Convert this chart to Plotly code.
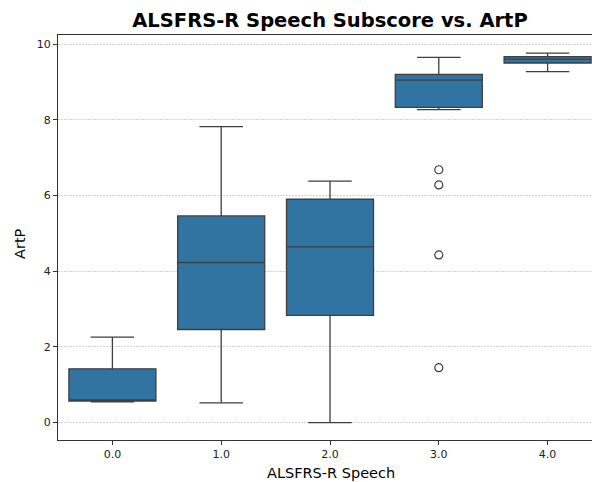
import plotly.graph_objects as go

categories = ["0.0", "1.0", "2.0", "3.0", "4.0"]
positions = [0, 1, 2, 3, 4]
lower_whisker = [0.55, 0.52, 0.0, 8.27, 9.27]
q1_vals = [0.57, 2.46, 2.83, 8.33, 9.50]
median_vals = [0.60, 4.23, 4.64, 9.05, 9.60]
q3_vals = [1.42, 5.46, 5.90, 9.20, 9.67]
upper_whisker = [2.26, 7.82, 6.38, 9.65, 9.76]
outlier_x = [3, 3, 3, 3]
outlier_y = [6.68, 6.28, 4.43, 1.45]

FONT = "DejaVu Sans, Liberation Sans, sans-serif"
EDGE = "#3f3f3f"

# the reference axes run past the right edge of the 592px picture, so the
# figure is drawn slightly wider and the page clips it
W, H = 602, 482
L, R, T, B = 58, 0, 35, 42
PW, PH = W - L - R, H - T - B

fig = go.Figure()
fig.add_trace(go.Box(
    x=positions, q1=q1_vals, median=median_vals, q3=q3_vals,
    lowerfence=lower_whisker, upperfence=upper_whisker,
    width=0.8, whiskerwidth=0.5,
    fillcolor="#3274a1", line=dict(color=EDGE, width=1.3),
    boxpoints=False, showlegend=False, hoverinfo="skip",
))
fig.add_trace(go.Scatter(
    x=outlier_x, y=outlier_y, mode="markers",
    marker=dict(symbol="circle-open", size=8, color=EDGE, line=dict(width=1.2, color=EDGE)),
    showlegend=False, hoverinfo="skip",
))

fig.update_layout(
    width=W, height=H,
    margin=dict(l=L, r=R, t=T, b=B, autoexpand=False),
    paper_bgcolor="white", plot_bgcolor="white",
    hovermode=False,
    font=dict(family=FONT, size=11, color="#222"),
    title=dict(text="<b>ALSFRS-R Speech Subscore vs. ArtP</b>", x=330 / W, xref="container",
               xanchor="center", y=1 - 20 / H, yanchor="middle", yref="container",
               font=dict(size=19.5, color="black", family=FONT)),
    annotations=[
        dict(text="ALSFRS-R Speech", x=(331 - L) / PW, xref="paper", y=-33 / PH, yref="paper",
             showarrow=False, xanchor="center", yanchor="middle",
             font=dict(size=14.5, color="black", family=FONT)),
        dict(text="ArtP", x=(20 - L) / PW, xref="paper", y=(PH + T - 244) / PH, yref="paper",
             showarrow=False, xanchor="center", yanchor="middle", textangle=-90,
             font=dict(size=14.5, color="black", family=FONT)),
    ],
)
fig.update_xaxes(
    range=[-0.5, 4.5], tickvals=positions, ticktext=categories,
    showline=True, linecolor="#333", linewidth=1, mirror=True,
    ticks="outside", ticklen=4, tickcolor="#333",
    showgrid=False, zeroline=False, automargin=False,
)
fig.update_yaxes(
    range=[-0.46, 10.24], tickvals=[0, 2, 4, 6, 8, 10],
    showline=True, linecolor="#333", linewidth=1, mirror=False,
    ticks="outside", ticklen=4, tickcolor="#333",
    showgrid=True, gridcolor="#d4d4d4", gridwidth=0.7, griddash="2px,1px",
    zeroline=False, automargin=False,
)
fig.write_html(
    "out.html",
    config={"displayModeBar": False},
    post_script="document.body.style.margin='0';document.body.style.overflow='hidden';",
)
